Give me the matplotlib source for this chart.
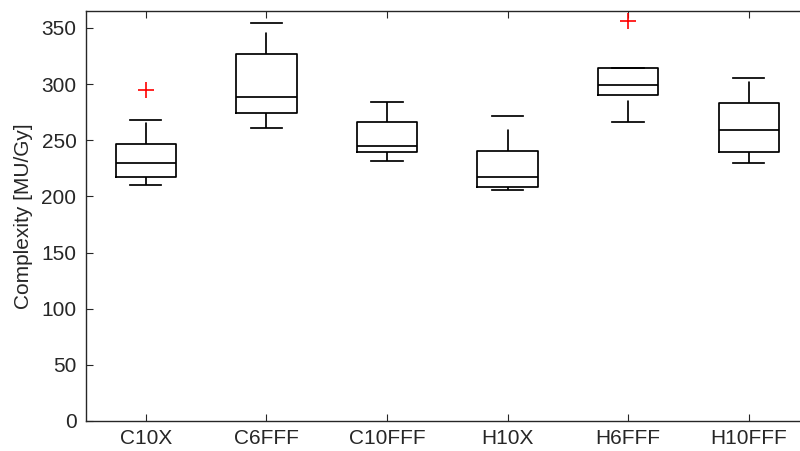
import matplotlib
matplotlib.use("Agg")
import matplotlib.pyplot as plt

categories = ["C10X", "C6FFF", "C10FFF", "H10X", "H6FFF", "H10FFF"]
whislo = [210.0, 260.4, 231.1, 205.3, 266.1, 229.6]
q1 = [217.4, 273.8, 239.4, 207.9, 289.8, 239.7]
med = [229.3, 288.0, 244.7, 217.4, 299.0, 258.9]
q3 = [246.5, 326.9, 266.4, 240.5, 314.4, 283.0]
whishi = [267.8, 353.9, 284.2, 271.1, 314.4, 305.2]
fliers = [[294.5], [], [], [], [356.2], []]

plt.rcParams['font.family'] = ['Liberation Sans', 'DejaVu Sans']
plt.rcParams['lines.scale_dashes'] = False
fig = plt.figure(figsize=(8.0, 4.51), dpi=100)
ax = fig.add_axes([85.5/800, 30/451, 723.5/800, 410/451])

stats = []
for i, c in enumerate(categories):
    stats.append(dict(label=c, whislo=whislo[i], q1=q1[i], med=med[i],
                      q3=q3[i], whishi=whishi[i], fliers=fliers[i]))

dark = '#000000'
lw = 1.25
res = ax.bxp(stats, widths=0.5, capwidths=0.26, showfliers=True,
             boxprops=dict(color=dark, linewidth=lw),
             medianprops=dict(color=dark, linewidth=lw),
             whiskerprops=dict(color=dark, linewidth=lw,
                               linestyle=(0, (15.5, 12))),
             capprops=dict(color=dark, linewidth=lw),
             flierprops=dict(marker='+', markeredgecolor='red', markersize=11,
                             markeredgewidth=1.2, linestyle='none'))

# MATLAB draws each whisker from its lower end upward
for line in res['whiskers']:
    y = sorted(line.get_ydata())
    line.set_ydata(y)

ax.set_xlim(0.5, 6.5)
ax.set_ylim(0, 365)
ax.set_yticks(range(0, 351, 50))
axcol = '#262626'
ax.set_ylabel("Complexity [MU/Gy]", fontsize=15, color=axcol, labelpad=6)
for s in ax.spines.values():
    s.set_color(axcol)
    s.set_linewidth(1.0)
ax.tick_params(direction='in', which='both', top=True, right=True,
               labelsize=15, colors=axcol, length=5, pad=6.5)
ax.tick_params(axis='x', pad=6)
fig.savefig("out.png", dpi=100)
